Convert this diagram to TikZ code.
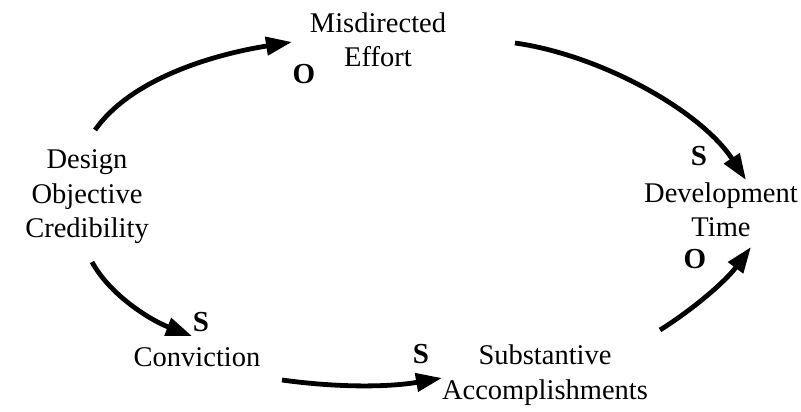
\documentclass[tikz,border=0pt]{standalone}
\usepackage{fontspec}
\setmainfont{Liberation Serif}
\usetikzlibrary{arrows.meta}
\tikzset{
  var/.style={align=center, inner sep=0pt, font=\fontsize{28.5}{34.5}\selectfont},
  pol/.style={inner sep=0pt, font=\fontsize{29}{30}\selectfont\bfseries},
  link/.style={line width=4.8pt, -{Triangle[length=26pt,width=18pt]}},
}
\begin{document}
\begin{tikzpicture}[x=1pt,y=1pt]
\useasboundingbox (0,0) rectangle (801,-412);
% variables
\node[var] (eff) at (378,-40) {Misdirected\\Effort};
\node[var] (cred) at (87,-197) {Design\\Objective\\Credibility};
\node[var] (dev) at (721,-210) {Development\\Time};
\node[var] (conv) at (197,-357) {Conviction};
\node[var] (acc) at (545,-375) {Substantive\\Accomplishments};
% polarity marks
\node[pol] (p1) at (304,-74) {O};
\node[pol] (p2) at (699,-156) {S};
\node[pol] (p3) at (695,-259) {O};
\node[pol] (p4) at (201,-322) {S};
\node[pol] (p5) at (421,-354) {S};
% link end points
\coordinate (a1) at (95,-130);  \coordinate (b1) at (292,-42);
\coordinate (a2) at (515,-43);  \coordinate (b2) at (746,-180);
\coordinate (a3) at (92,-262);  \coordinate (b3) at (192,-336);
\coordinate (a4) at (282,-380); \coordinate (b4) at (442,-378);
\coordinate (a5) at (660,-330); \coordinate (b5) at (751,-247);
% causal links
\draw[link] (a1) .. controls (130,-80) and (210,-55) .. (b1);
\draw[link] (a2) .. controls (600,-55) and (700,-110) .. (b2);
\draw[link] (a3) .. controls (110,-295) and (150,-320) .. (b3);
\draw[link] (a4) .. controls (340,-388) and (390,-387) .. (b4);
\draw[link] (a5) .. controls (692,-310) and (725,-282) .. (b5);
\end{tikzpicture}
\end{document}
